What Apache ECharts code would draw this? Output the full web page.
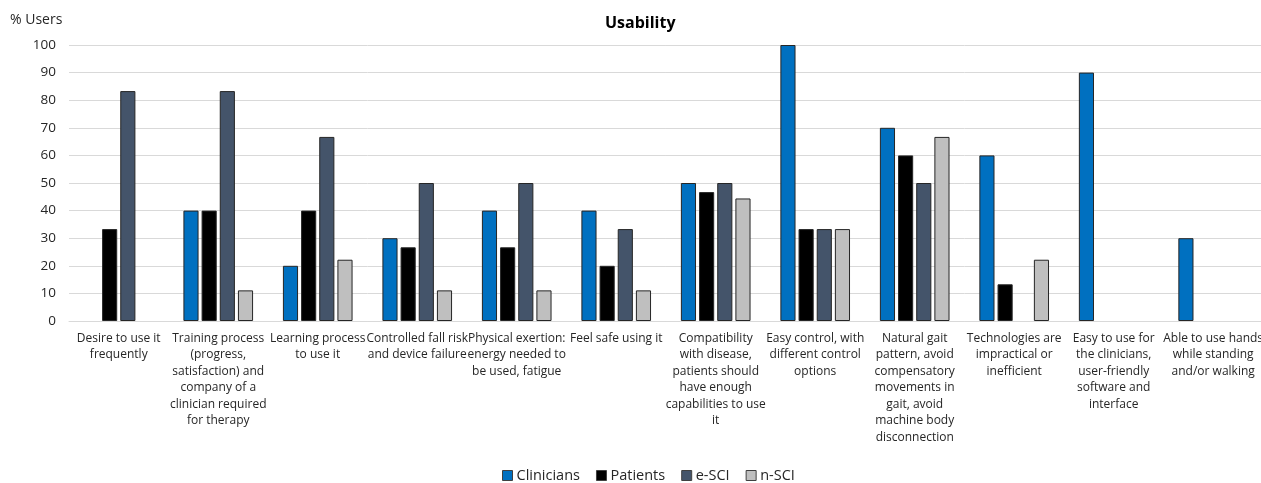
<!DOCTYPE html>
<html>
<head>
<meta charset="utf-8">
<script src="https://cdn.jsdelivr.net/npm/echarts@6/dist/echarts.min.js"></script>
<style>
  html, body { margin: 0; padding: 0; background: #fff; overflow: hidden; }
  #chart { width: 1266px; height: 483px; }
</style>
</head>
<body>
<div id="chart"></div>
<script>
// Usability criteria (category labels, wrapped as printed)
const categories = [
  "Desire to use it\nfrequently",
  "Training process\n(progress,\nsatisfaction) and\ncompany of a\nclinician required\nfor therapy",
  "Learning process\nto use it",
  "Controlled fall risk\nand device failure",
  "Physical exertion:\nenergy needed to\nbe used, fatigue",
  "Feel safe using it",
  "Compatibility\nwith disease,\npatients should\nhave enough\ncapabilities to use\nit",
  "Easy control, with\ndifferent control\noptions",
  "Natural gait\npattern, avoid\ncompensatory\nmovements in\ngait, avoid\nmachine body\ndisconnection",
  "Technologies are\nimpractical or\ninefficient",
  "Easy to use for\nthe clinicians,\nuser-friendly\nsoftware and\ninterface",
  "Able to use hands\nwhile standing\nand/or walking"
];

// % of users per group (null = no bar)
const clinicians = [null, 40, 20, 30, 40, 40, 50, 100, 70, 60, 90, 30];
const patients   = [33.3, 40, 40, 26.7, 26.7, 20, 46.7, 33.3, 60, 13.3, null, null];
const eSCI       = [83.3, 83.3, 66.7, 50, 50, 33.3, 50, 33.3, 50, null, null, null];
const nSCI       = [null, 11.1, 22.2, 11.1, 11.1, 11.1, 44.4, 33.3, 66.7, 22.2, null, null];

const seriesNames = ["Clinicians", "Patients", "e-SCI", "n-SCI"];
const seriesColors = ["#0070C0", "#000000", "#44546A", "#BFBFBF"];
const seriesData = [clinicians, patients, eSCI, nSCI];

const FONT = "'Open Sans', 'Noto Sans', sans-serif";

const chart = echarts.init(document.getElementById("chart"), null, { renderer: "canvas" });

chart.setOption({
  animation: false,
  textStyle: { fontFamily: FONT },
  title: {
    text: "Usability",
    left: 600,
    top: 10,
    textStyle: { fontFamily: FONT, fontSize: 16, fontWeight: "bold", color: "#000" }
  },
  legend: {
    bottom: -5,
    left: 497,
    itemWidth: 10,
    itemHeight: 10,
    itemGap: 16,
    icon: "rect",
    textStyle: { fontFamily: FONT, fontSize: 14.5, color: "#262626", padding: [0, 0, 0, -1] },
    data: seriesNames.map((n, i) => ({
      name: n,
      itemStyle: { color: seriesColors[i], borderColor: "#404040", borderWidth: 1 }
    }))
  },
  grid: { left: 69, right: 1, top: 45, bottom: 162, containLabel: false },
  xAxis: {
    type: "category",
    data: categories,
    axisLine: { show: true, lineStyle: { color: "#d9d9d9", width: 1 } },
    axisTick: { show: false },
    axisLabel: {
      interval: 0,
      margin: 9,
      fontFamily: FONT,
      fontSize: 12,
      lineHeight: 16.5,
      color: "#262626",
      align: "center"
    }
  },
  yAxis: {
    type: "value",
    name: "% Users",
    nameLocation: "end",
    nameGap: 18,
    nameTextStyle: { fontFamily: FONT, fontSize: 14, color: "#262626", align: "left", padding: [0, 0, 0, -59] },
    min: 0,
    max: 100,
    interval: 10,
    axisLine: { show: false },
    axisTick: { show: false },
    axisLabel: { fontFamily: FONT, fontSize: 13.5, color: "#262626", margin: 13 },
    splitLine: { lineStyle: { color: "#d9d9d9", width: 1 } }
  },
  series: seriesNames.map((n, i) => ({
    name: n,
    type: "bar",
    data: seriesData[i],
    barGap: "20%",
    barCategoryGap: "30%",
    itemStyle: { color: seriesColors[i], borderColor: "#262626", borderWidth: 1 }
  }))
});
</script>
</body>
</html>
